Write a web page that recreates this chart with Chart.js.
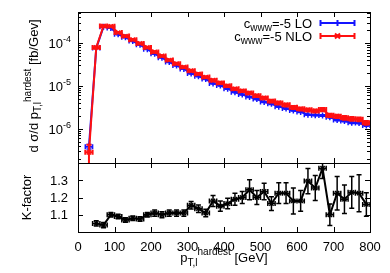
<!DOCTYPE html>
<html>
<head>
<meta charset="utf-8">
<script src="https://cdn.jsdelivr.net/npm/chart.js@4/dist/chart.umd.min.js"></script>
<style>
  body { margin: 0; background: #fff; }
  #wrap { position: relative; width: 390px; height: 273px; }
  canvas { position: absolute; left: 0; }
  #topChart { top: 0; }
  #kChart { top: 163px; }
</style>
</head>
<body>
<div id="wrap">
  <canvas id="topChart" width="390" height="164"></canvas>
  <canvas id="kChart" width="390" height="110"></canvas>
</div>
<script>
// bin centres in GeV (20 GeV bins)
const binCenters = [30, 50, 70, 90, 110, 130, 150, 170, 190, 210, 230, 250, 270, 290, 310, 330, 350, 370, 390,
  410, 430, 450, 470, 490, 510, 530, 550, 570, 590, 610, 630, 650, 670, 690, 710, 730, 750, 770, 790];
const binHalfWidth = 10;

// d sigma / d pT [fb/GeV]
const loValues = [3.8e-7, 7.6e-5, 2.4e-4, 2.25e-4, 1.6e-4, 1.36e-4, 1.11e-4, 9.1e-5, 7.2e-5, 5.6e-5, 4.55e-5,
  3.6e-5, 2.97e-5, 2.48e-5, 1.95e-5, 1.67e-5, 1.44e-5, 1.14e-5, 1.02e-5, 8.6e-6, 7.1e-6, 6.3e-6, 5.5e-6, 4.9e-6,
  4.2e-6, 3.8e-6, 3.27e-6, 2.94e-6, 2.67e-6, 2.46e-6, 2.12e-6, 2.07e-6, 2.04e-6, 1.86e-6, 1.59e-6, 1.51e-6,
  1.38e-6, 1.35e-6, 1.19e-6];
const nloValues = [2.8e-7, 7.9e-5, 2.5e-4, 2.45e-4, 1.75e-4, 1.45e-4, 1.2e-4, 9.8e-5, 7.9e-5, 6.2e-5, 5.0e-5,
  4.0e-5, 3.3e-5, 2.75e-5, 2.25e-5, 1.9e-5, 1.6e-5, 1.35e-5, 1.17e-5, 1.0e-5, 8.5e-6, 7.6e-6, 6.8e-6, 5.9e-6,
  5.2e-6, 4.4e-6, 4.0e-6, 3.6e-6, 3.15e-6, 2.9e-6, 2.75e-6, 2.6e-6, 2.8e-6, 2.05e-6, 1.95e-6, 1.8e-6,
  1.7e-6, 1.65e-6, 1.38e-6];
// relative errors
const loRelError = [0.12, 0.02, 0.02, 0.02, 0.02, 0.02, 0.02, 0.02, 0.02, 0.02, 0.02, 0.02, 0.02, 0.02, 0.025,
  0.025, 0.025, 0.025, 0.025, 0.03, 0.03, 0.03, 0.03, 0.03, 0.03, 0.03, 0.035, 0.035, 0.035, 0.035, 0.035,
  0.035, 0.04, 0.04, 0.04, 0.04, 0.04, 0.04, 0.04];
const nloRelError = [0.5, 0.04, 0.04, 0.04, 0.04, 0.04, 0.04, 0.04, 0.04, 0.04, 0.04, 0.04, 0.05, 0.05, 0.05,
  0.05, 0.05, 0.06, 0.06, 0.06, 0.06, 0.06, 0.07, 0.07, 0.07, 0.07, 0.08, 0.08, 0.08, 0.08, 0.08, 0.08, 0.09,
  0.09, 0.09, 0.1, 0.1, 0.1, 0.1];

// K-factor (NLO/LO), from 50 GeV on
const kBinCenters = [50, 70, 90, 110, 130, 150, 170, 190, 210, 230, 250, 270, 290, 310, 330, 350, 370, 390,
  410, 430, 450, 470, 490, 510, 530, 550, 570, 590, 610, 630, 650, 670, 690, 710, 730, 750, 770, 790];
const kFactor = [1.05, 1.04, 1.10, 1.09, 1.07, 1.08, 1.075, 1.10, 1.11, 1.10, 1.11, 1.11, 1.11, 1.155, 1.135,
  1.11, 1.18, 1.15, 1.165, 1.19, 1.20, 1.245, 1.20, 1.235, 1.165, 1.225, 1.225, 1.18, 1.18, 1.295, 1.255, 1.37,
  1.10, 1.225, 1.19, 1.23, 1.225, 1.16];
const kError = [0.015, 0.015, 0.013, 0.013, 0.013, 0.013, 0.013, 0.013, 0.018, 0.018, 0.018, 0.018, 0.018,
  0.022, 0.022, 0.022, 0.032, 0.03, 0.03, 0.035, 0.035, 0.058, 0.04, 0.048, 0.04, 0.06, 0.06, 0.075, 0.06,
  0.073, 0.073, 0.06, 0.063, 0.097, 0.083, 0.092, 0.107, 0.068];

// axis ticks
const xTicks = [0, 100, 200, 300, 400, 500, 600, 700, 800];
const sigmaTicks = [1e-6, 1e-5, 1e-4];
const sigmaTickExp = ['-6', '-5', '-4'];
const kTicks = [1.1, 1.2, 1.3];

const FONT = '"Liberation Sans", Arial, sans-serif';
const BLUE = '#1414ff';
const RED = '#ff1010';

// text with sub/superscripts: parts = [[text, size, dy], ...]
function richText(ctx, parts, x, y, align, angle) {
  ctx.save();
  ctx.translate(x, y);
  if (angle) ctx.rotate(angle);
  ctx.textAlign = 'left';
  ctx.textBaseline = 'alphabetic';
  ctx.fillStyle = '#000';
  let total = 0;
  const widths = parts.map(p => {
    ctx.font = p[1] + 'px ' + FONT;
    const w = ctx.measureText(p[0]).width;
    total += w;
    return w;
  });
  let cx = align === 'center' ? -total / 2 : align === 'right' ? -total : 0;
  parts.forEach((p, i) => {
    ctx.font = p[1] + 'px ' + FONT;
    ctx.fillText(p[0], cx, p[2] || 0);
    cx += widths[i];
  });
  ctx.restore();
}

function drawErrorBars(chart, xs, ys, lows, highs, color, lw) {
  const { ctx, chartArea: a, scales: { x, y } } = chart;
  ctx.save();
  ctx.beginPath();
  ctx.rect(a.left, a.top, a.right - a.left, a.bottom - a.top);
  ctx.clip();
  ctx.strokeStyle = color;
  ctx.lineWidth = lw;
  ctx.beginPath();
  xs.forEach((xv, i) => {
    const px = x.getPixelForValue(xv);
    const py = y.getPixelForValue(ys[i]);
    const x0 = x.getPixelForValue(xv - binHalfWidth);
    const x1 = x.getPixelForValue(xv + binHalfWidth);
    const y0 = y.getPixelForValue(lows[i]);
    const y1 = y.getPixelForValue(highs[i]);
    ctx.moveTo(x0, py); ctx.lineTo(x1, py);
    ctx.moveTo(x0, py - 2.5); ctx.lineTo(x0, py + 2.5);
    ctx.moveTo(x1, py - 2.5); ctx.lineTo(x1, py + 2.5);
    ctx.moveTo(px, y0); ctx.lineTo(px, y1);
    ctx.moveTo(px - 2.5, y0); ctx.lineTo(px + 2.5, y0);
    ctx.moveTo(px - 2.5, y1); ctx.lineTo(px + 2.5, y1);
  });
  ctx.stroke();
  ctx.restore();
}

function drawFrame(chart, yMajor, yMinor) {
  const { ctx, chartArea: a, scales: { x, y } } = chart;
  ctx.save();
  ctx.strokeStyle = '#000';
  ctx.lineWidth = 1;
  ctx.beginPath();
  xTicks.forEach(t => {
    const px = Math.round(x.getPixelForValue(t)) + 0.5;
    ctx.moveTo(px, a.top); ctx.lineTo(px, a.top + 5);
    ctx.moveTo(px, a.bottom); ctx.lineTo(px, a.bottom - 5);
  });
  yMajor.forEach(t => {
    const py = Math.round(y.getPixelForValue(t)) + 0.5;
    ctx.moveTo(a.left, py); ctx.lineTo(a.left + 5, py);
    ctx.moveTo(a.right, py); ctx.lineTo(a.right - 5, py);
  });
  yMinor.forEach(t => {
    const py = Math.round(y.getPixelForValue(t)) + 0.5;
    ctx.moveTo(a.left, py); ctx.lineTo(a.left + 3, py);
    ctx.moveTo(a.right, py); ctx.lineTo(a.right - 3, py);
  });
  ctx.stroke();
  ctx.strokeRect(a.left + 0.5, a.top + 0.5, a.right - a.left, a.bottom - a.top);
  ctx.restore();
}

function legendRow(ctx, label, color, yLine, yText, marker) {
  richText(ctx, label, 312, yText, 'right');
  ctx.save();
  ctx.strokeStyle = color;
  ctx.lineWidth = 2;
  ctx.beginPath();
  ctx.moveTo(320, yLine); ctx.lineTo(355, yLine);
  ctx.moveTo(320.5, yLine - 3); ctx.lineTo(320.5, yLine + 3);
  ctx.moveTo(354.5, yLine - 3); ctx.lineTo(354.5, yLine + 3);
  const m = 337.5;
  if (marker === 'cross') {
    ctx.moveTo(m - 3, yLine); ctx.lineTo(m + 3, yLine);
    ctx.moveTo(m, yLine - 3); ctx.lineTo(m, yLine + 3);
  } else {
    ctx.moveTo(m - 2.5, yLine - 2.5); ctx.lineTo(m + 2.5, yLine + 2.5);
    ctx.moveTo(m - 2.5, yLine + 2.5); ctx.lineTo(m + 2.5, yLine - 2.5);
  }
  ctx.stroke();
  ctx.restore();
}

const topPlugin = {
  id: 'topPanel',
  afterDatasetDraw(chart, args) {
    if (args.index === 0) {
      drawErrorBars(chart, binCenters, loValues,
        loValues.map((v, i) => v * (1 - loRelError[i])), loValues.map((v, i) => v * (1 + loRelError[i])), BLUE, 1.5);
    } else {
      drawErrorBars(chart, binCenters, nloValues,
        nloValues.map((v, i) => v * (1 - nloRelError[i])), nloValues.map((v, i) => v * (1 + nloRelError[i])), RED, 2);
    }
  },
  afterDraw(chart) {
    const ctx = chart.ctx;
    const y = chart.scales.y;
    const minor = [];
    for (let e = -7; e <= -4; e++) {
      for (let k = 2; k <= 9; k++) {
        const v = k * Math.pow(10, e);
        if (v > y.min && v < y.max) minor.push(v);
      }
    }
    drawFrame(chart, sigmaTicks, minor);
    sigmaTicks.forEach((t, i) => {
      const py = y.getPixelForValue(t);
      richText(ctx, [['10', 13, 0], [sigmaTickExp[i], 9, -6]], 71, py + 5, 'right');
    });
    richText(ctx, [['d \u03c3/d p', 13, 0], ['T,l', 10, 3], ['hardest', 10, -7], [' [fb/Gev]', 13, 0]],
      38, 86, 'center', -Math.PI / 2);
    legendRow(ctx, [['c', 13, 0], ['www', 10, 3], ['=-5 LO', 13, 0]], BLUE, 23, 27.5, 'cross');
    legendRow(ctx, [['c', 13, 0], ['www', 10, 3], ['=-5 NLO', 13, 0]], RED, 36, 40.5, 'x');
  }
};

const kPlugin = {
  id: 'kPanel',
  afterDatasetDraw(chart) {
    drawErrorBars(chart, kBinCenters, kFactor,
      kFactor.map((v, i) => v - kError[i]), kFactor.map((v, i) => v + kError[i]), '#000', 1.5);
  },
  afterDraw(chart) {
    const ctx = chart.ctx;
    const { chartArea: a, scales: { x, y } } = chart;
    drawFrame(chart, kTicks, []);
    kTicks.forEach(t => {
      richText(ctx, [[t.toFixed(1), 13, 0]], 68, y.getPixelForValue(t) + 4.5, 'right');
    });
    xTicks.forEach(t => {
      richText(ctx, [[String(t), 13, 0]], x.getPixelForValue(t), a.bottom + 19, 'center');
    });
    richText(ctx, [['K-factor', 13, 0]], 31, 34.5, 'center', -Math.PI / 2);
    richText(ctx, [['p', 13, 0], ['T,l', 10, 4], ['hardest', 10, -7], [' [GeV]', 13, 0]], 224, 99, 'center');
  }
};

const hiddenX = { type: 'linear', min: 0, max: 800, display: false };

new Chart(document.getElementById('topChart'), {
  type: 'line',
  data: {
    datasets: [
      {
        label: 'c_www=-5 LO',
        data: binCenters.map((c, i) => ({ x: c, y: loValues[i] })),
        borderColor: BLUE, backgroundColor: BLUE, borderWidth: 2,
        pointStyle: 'cross', pointRadius: 3, pointBorderWidth: 1.5,
        order: 1
      },
      {
        label: 'c_www=-5 NLO',
        data: binCenters.map((c, i) => ({ x: c, y: nloValues[i] })),
        borderColor: RED, backgroundColor: RED, borderWidth: 2,
        pointStyle: 'crossRot', pointRadius: 3, pointBorderWidth: 1.5,
        order: 0
      }
    ]
  },
  options: {
    responsive: false,
    animation: false,
    events: [],
    layout: { padding: { left: 78, right: 20, top: 12, bottom: 1 }, autoPadding: false },
    scales: {
      x: hiddenX,
      y: { type: 'logarithmic', min: 1.58e-7, max: 5.3e-4, display: false }
    },
    plugins: { legend: { display: false }, tooltip: { enabled: false } }
  },
  plugins: [topPlugin]
});

new Chart(document.getElementById('kChart'), {
  type: 'line',
  data: {
    datasets: [{
      label: 'K-factor',
      data: kBinCenters.map((c, i) => ({ x: c, y: kFactor[i] })),
      borderColor: '#000', backgroundColor: '#000', borderWidth: 2,
      pointStyle: 'crossRot', pointRadius: 3, pointBorderWidth: 1.5
    }]
  },
  options: {
    responsive: false,
    animation: false,
    events: [],
    layout: { padding: { left: 78, right: 20, top: 0, bottom: 41 }, autoPadding: false },
    scales: {
      x: hiddenX,
      y: { type: 'linear', min: 1.0, max: 1.4, display: false }
    },
    plugins: { legend: { display: false }, tooltip: { enabled: false } }
  },
  plugins: [kPlugin]
});
</script>
</body>
</html>
